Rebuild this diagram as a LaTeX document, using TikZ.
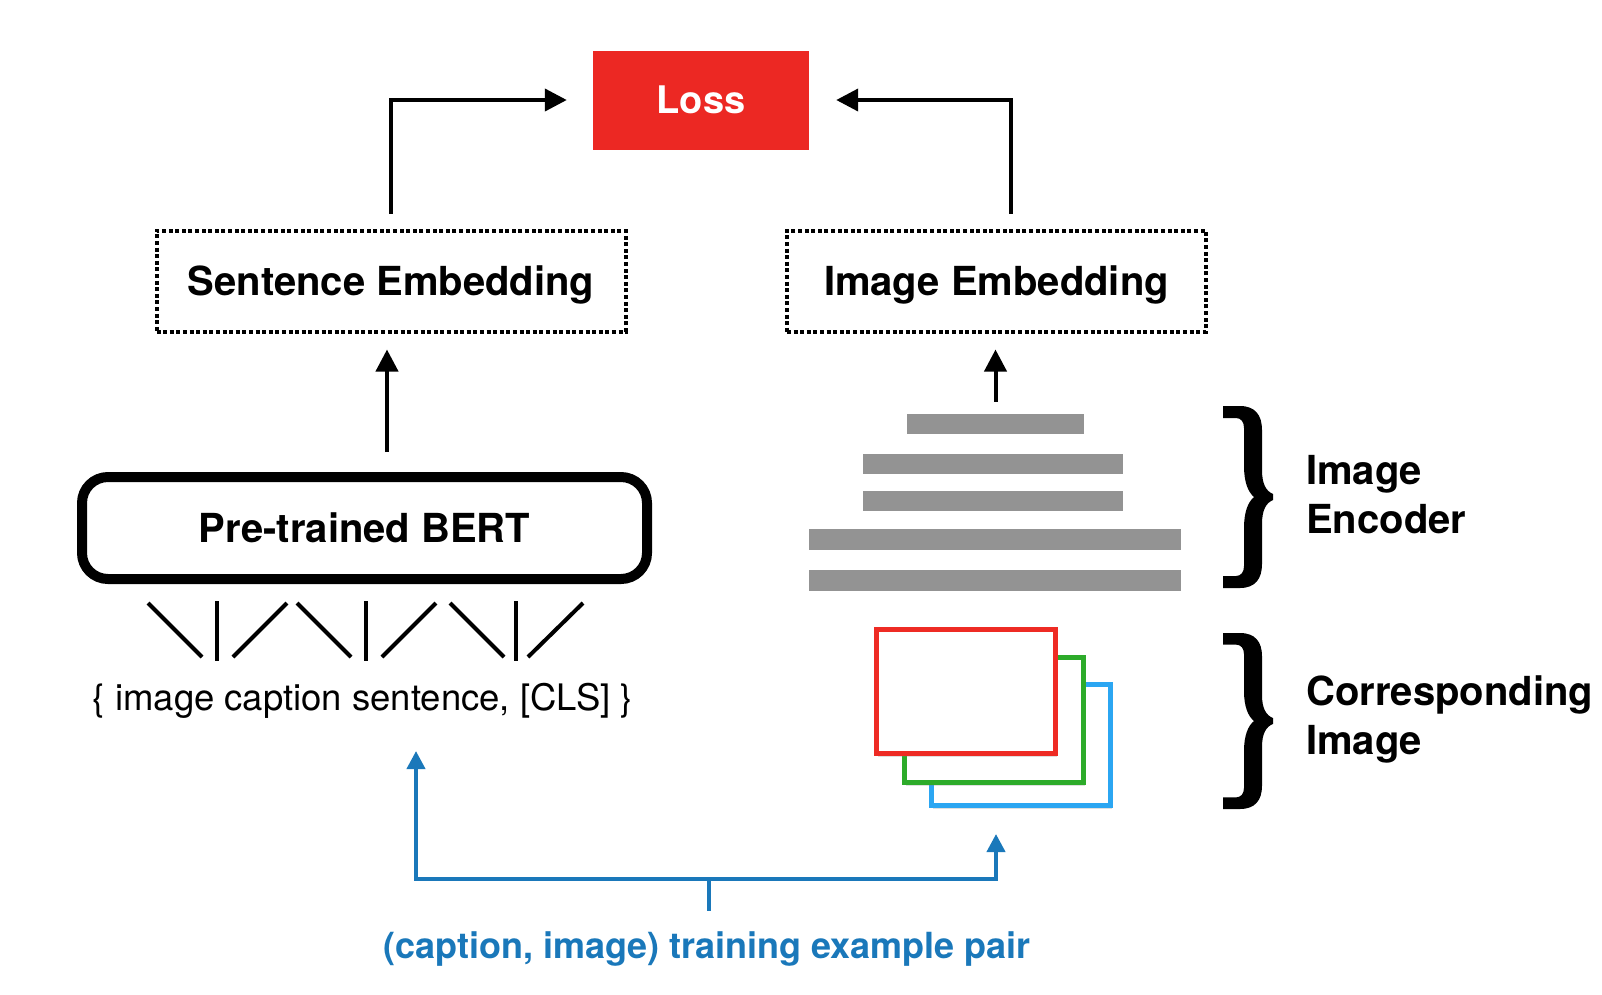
\documentclass[tikz,border=0pt]{standalone}
\usepackage{fontspec}
\setmainfont{TeX Gyre Heros}
\usetikzlibrary{arrows.meta,shadows}
\definecolor{lossred}{HTML}{EC2823}
\definecolor{sqred}{HTML}{EE2B24}
\definecolor{sqgreen}{HTML}{2DAB2A}
\definecolor{sqblue}{HTML}{2BA6F2}
\definecolor{pairblue}{HTML}{1A78BA}
\definecolor{bargray}{HTML}{939393}
\begin{document}
\begin{tikzpicture}[x=1pt,y=-1pt,
  bigtext/.style={font=\fontsize{40}{49}\selectfont\bfseries},
  lossbox/.style={fill=lossred, text=white, inner sep=0pt, text depth=0pt, minimum width=216pt, minimum height=99pt, font=\fontsize{38}{46}\selectfont\bfseries},
  embbox/.style={draw, line width=4pt, dash pattern=on 4pt off 2.6pt, inner sep=0pt, text depth=0pt, minimum height=101pt, bigtext},
  bertbox/.style={draw, line width=10pt, rounded corners=26pt, inner sep=0pt, text depth=0pt, minimum width=565pt, minimum height=102pt, bigtext},
  bar/.style={fill=bargray, inner sep=0pt},
  imgsq/.style={draw, fill=white, line width=5pt, inner sep=0pt, minimum width=179pt, drop shadow={shadow xshift=2pt, shadow yshift=-4pt, opacity=0.25}},
  blk/.style={line width=4pt, -{Triangle[length=22pt,width=22pt]}},
  tok/.style={line width=4pt},
  bl/.style={draw=pairblue, line width=4pt},
  blarr/.style={bl, -{Triangle[length=18pt,width=18pt]}},
  lbl/.style={bigtext, align=left, inner sep=0pt, anchor=west},
  bracepic/.pic={
    \fill (0,0) -- (17,0) .. controls (32,0) and (39,9) .. (39,24) -- (39,64)
      .. controls (39,78) and (43,85) .. (50,88) -- (50,94)
      .. controls (43,97) and (39,104) .. (39,118) -- (39,158)
      .. controls (39,173) and (32,182) .. (17,182) -- (0,182) -- (0,170) -- (13,170)
      .. controls (18,170) and (21,166) .. (21,160) -- (21,122)
      .. controls (21,106) and (25,96) .. (31,91)
      .. controls (25,86) and (21,76) .. (21,60) -- (21,22)
      .. controls (21,16) and (18,12) .. (13,12) -- (0,12) -- cycle;
  }
]
\useasboundingbox (0,0) rectangle (1602,994);

% top
\node[lossbox] (loss) at (701,100) {Loss};
\node[embbox, minimum width=469pt] (sent) at (391,281) {Sentence Embedding};
\node[embbox, minimum width=419pt] (img) at (996.5,281) {Image Embedding};

\draw[blk, shorten <=15pt, shorten >=26pt] (sent.north) |- (loss.west);
\draw[blk, shorten <=15pt, shorten >=27pt] ([xshift=14.5pt]img.north) |- (loss.east);

% BERT
\node[bertbox] (bert) at (364.5,528) {Pre-trained BERT};
\draw[blk, shorten <=20pt, shorten >=16pt] ([xshift=-4pt]sent.south |- bert.north) -- ([xshift=-4pt]sent.south);

% tokens
\draw[tok] (148,603) -- (202,657);
\draw[tok] (217,601) -- (217,661);
\draw[tok] (233,657) -- (287,603);
\draw[tok] (297,603) -- (351,657);
\draw[tok] (366,601) -- (366,661);
\draw[tok] (382,657) -- (436,603);
\draw[tok] (450,603) -- (504,657);
\draw[tok] (516,601) -- (516,661);
\draw[tok] (528,657) -- (583,603);

\node[font=\fontsize{36.5}{44}\selectfont, inner sep=0pt] (cap) at (363,701) {\{ image caption sentence, [CLS] \}};

% encoder
\node[bar, minimum width=177pt, minimum height=20pt] (b1) at (995.5,424) {};
\node[bar, minimum width=260pt, minimum height=20pt] (b2) at (993,464) {};
\node[bar, minimum width=260pt, minimum height=20pt] (b3) at (993,501) {};
\node[bar, minimum width=372pt, minimum height=21pt] (b4) at (995,539.5) {};
\node[bar, minimum width=372pt, minimum height=21pt] (b5) at (995,580.5) {};
\draw[blk, shorten <=12pt, shorten >=16pt] (b1.north) -- (b1.north |- img.south);

% image stack
\node[imgsq, draw=sqblue, minimum height=121pt] (sqb) at (1020.5,744.5) {};
\node[imgsq, draw=sqgreen, minimum height=125pt] (sqg) at (993.5,719.5) {};
\node[imgsq, draw=sqred, minimum height=124pt] (sqr) at (965.5,691) {};

% braces and labels
\pic at (1223,406) {bracepic};
\pic[yscale=0.967] at (1223,633) {bracepic};
\node[lbl] (enc) at (1306,494.5) {Image\\Encoder};
\node[lbl] (corr) at (1306,719.5) {Corresponding\\Image};

% training pair
\node[font=\fontsize{36}{44}\selectfont\bfseries, text=pairblue, inner sep=0pt, anchor=base] (pair) at (707,958) {(caption, image) training example pair};
\coordinate (split) at (709,879);
\coordinate (capin) at (416,751);
\coordinate (imgin) at (996,834);
\draw[bl] (split) -- (split |- 0,911);
\draw[blarr] (split) -| (capin);
\draw[blarr] (split) -| (imgin);
\end{tikzpicture}
\end{document}
